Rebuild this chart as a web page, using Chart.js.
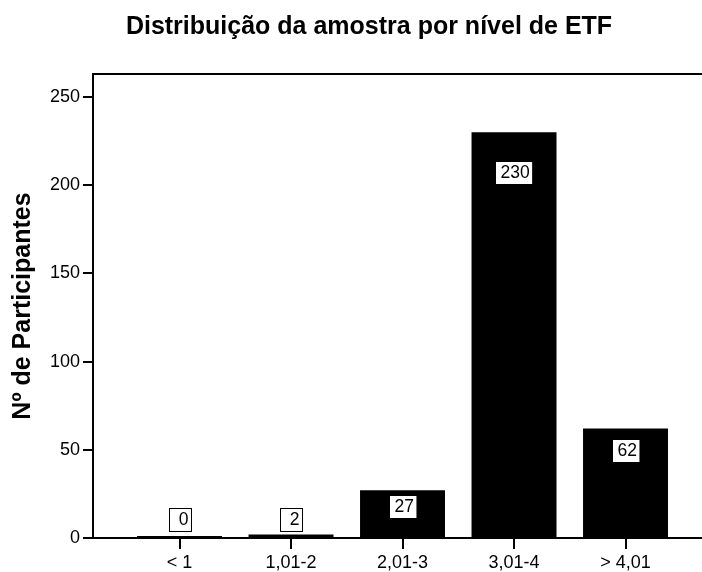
<!DOCTYPE html>
<html>
<head>
<meta charset="utf-8">
<script src="https://cdn.jsdelivr.net/npm/chart.js@4/dist/chart.umd.min.js"></script>
<style>
  html, body { margin: 0; padding: 0; background: #fff; overflow: hidden; }
  #wrap { width: 702px; height: 572px; }
</style>
</head>
<body>
<div id="wrap"><canvas id="chart" width="702" height="572"></canvas></div>
<script>
const categories = ["< 1", "1,01-2", "2,01-3", "3,01-4", "> 4,01"];
const participants = [0, 2, 27, 230, 62];
const yTicks = [0, 50, 100, 150, 200, 250];

const FONT = "'Liberation Sans', Arial, Helvetica, sans-serif";

// white value boxes like the SPSS output
const valueBoxes = {
  id: "valueBoxes",
  afterDatasetsDraw(chart) {
    const ctx = chart.ctx;
    const meta = chart.getDatasetMeta(0);
    ctx.save();
    ctx.font = "17.5px " + FONT;
    ctx.textBaseline = "middle";
    ctx.textAlign = "right";
    meta.data.forEach((bar, i) => {
      const text = String(participants[i]);
      const tw = ctx.measureText(text).width;
      const w = Math.max(22, tw + 8);
      const h = 23;
      const height = bar.base - bar.y;
      let cy;
      if (height < 30) {
        cy = bar.base - 6 - h / 2;
      } else {
        cy = bar.y + Math.min(40, Math.max(16, height * 0.2));
      }
      const left = Math.round(bar.x - w / 2) + 0.5;
      const top = Math.round(cy - h / 2) + 0.5;
      ctx.fillStyle = "#fff";
      ctx.fillRect(left, top, w, h);
      ctx.strokeStyle = "#000";
      ctx.lineWidth = 1;
      ctx.strokeRect(left, top, w, h);
      ctx.fillStyle = "#000";
      ctx.fillText(text, left + w - 3, cy + 1);
    });
    ctx.restore();
  },
  afterDraw(chart) {
    // top frame line
    const { ctx, chartArea } = chart;
    ctx.save();
    ctx.strokeStyle = "#000";
    ctx.lineWidth = 2;
    ctx.beginPath();
    ctx.moveTo(chartArea.left - 1, chartArea.top);
    ctx.lineTo(chartArea.right, chartArea.top);
    ctx.stroke();
    ctx.restore();
  }
};

new Chart(document.getElementById("chart"), {
  type: "bar",
  data: {
    datasets: [{
      data: participants.map((v, i) => ({ x: i, y: v })),
      backgroundColor: "#000",
      borderWidth: 0,
      barPercentage: 0.762,
      categoryPercentage: 1,
      minBarLength: 2
    }]
  },
  options: {
    responsive: false,
    animation: false,
    layout: { padding: { left: 36, right: 0, top: 0, bottom: 0 } },
    plugins: {
      legend: { display: false },
      tooltip: { enabled: false },
      title: {
        display: true,
        text: "Distribuição da amostra por nível de ETF",
        color: "#000",
        font: { family: FONT, size: 25, weight: "bold" },
        padding: { top: 12, bottom: 32 }
      }
    },
    scales: {
      x: {
        type: "linear",
        offset: false,
        min: -0.776,
        max: 4.686,
        grid: {
          offset: false,
          drawOnChartArea: false,
          drawTicks: true,
          tickLength: 11,
          color: "#000",
          lineWidth: 2
        },
        border: { display: true, color: "#000", width: 2 },
        ticks: {
          stepSize: 1,
          autoSkip: false,
          maxRotation: 0,
          padding: 3,
          color: "#000",
          font: { family: FONT, size: 18 },
          callback: (v) => categories[v]
        },
        afterBuildTicks: (axis) => {
          axis.ticks = categories.map((c, i) => ({ value: i }));
        },
        afterFit: (axis) => { axis.height = 34; }
      },
      y: {
        min: 0,
        max: 263,
        grid: {
          drawOnChartArea: false,
          drawTicks: true,
          tickLength: 10,
          color: "#000",
          lineWidth: 2
        },
        border: { display: true, color: "#000", width: 2 },
        ticks: {
          stepSize: 50,
          padding: 3,
          color: "#000",
          font: { family: FONT, size: 18 }
        },
        afterBuildTicks: (axis) => {
          axis.ticks = yTicks.map((v) => ({ value: v }));
        },
        title: {
          display: true,
          text: "Nº de Participantes",
          color: "#000",
          font: { family: FONT, size: 25, weight: "bold" },
          padding: { top: -28, bottom: 0 }
        },
        afterFit: (axis) => { axis.width = 57; }
      }
    }
  },
  plugins: [valueBoxes]
});
</script>
</body>
</html>
